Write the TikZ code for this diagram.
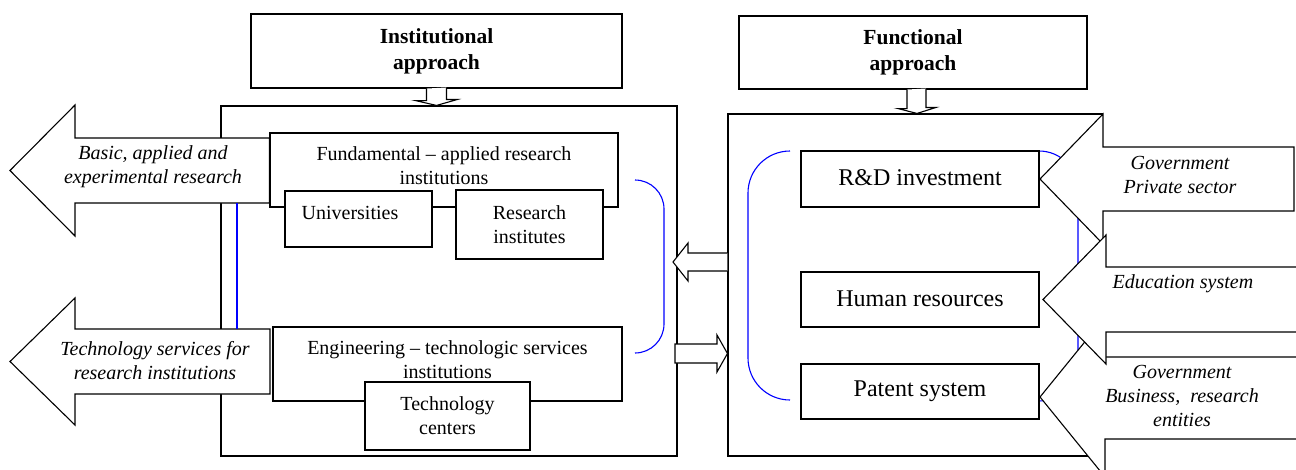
\documentclass[tikz,border=0pt]{standalone}
\usepackage{fontspec}
\setmainfont{Liberation Serif}
\usetikzlibrary{calc}
\begin{document}
\begin{tikzpicture}[x=1pt,y=-1pt,
  box/.style={draw, line width=1.1pt, fill=white, inner sep=0pt, align=center},
  barrow/.style={draw, line width=1.1pt, fill=white, line join=miter, miter limit=10},
  brk/.style={draw=blue, line width=1.1pt},
  lt/.style={font=\fontsize{20}{24}\selectfont, align=center, inner sep=0pt},
  it/.style={font=\fontsize{20}{24}\selectfont\itshape, align=center, inner sep=0pt},
  ft/.style={font=\fontsize{24}{28}\selectfont},
  bt/.style={font=\fontsize{21.5}{26}\selectfont\bfseries}]
\useasboundingbox (0,0) rectangle (1296,469);
\clip (0,0) rectangle (1296,469);

% large frames
\node[box, minimum width=456, minimum height=350] (lbox) at (449,281) {};
\node[box, minimum width=374, minimum height=342] (rbox) at (915,285) {};

% right bracket of the functional group (mostly hidden by the arrows)
\draw[brk, rounded corners=39] (1039,151) -- (1078,151) -- (1078,401) -- (1039,401);

% institutional boxes
\node[box, minimum width=348, minimum height=74] (fund) at (444,170) {};
\node[lt] (fundt) at (444,166) {Fundamental -- applied research\\institutions};
\node[box, minimum width=147, minimum height=56] (univ) at (358.5,219) {};
\node[lt] (univt) at (350,213) {Universities};
\node[box, lt, minimum width=147, minimum height=69] (rinst) at (529.5,224.5) {Research\\institutes};
\node[box, minimum width=349, minimum height=74] (eng) at (447.5,364) {};
\node[lt] (engt) at (447.5,360) {Engineering -- technologic services\\institutions};
\node[box, lt, minimum width=165, minimum height=68] (tech) at (447.5,416) {Technology\\centers};

% functional boxes
\node[box, ft, minimum width=238, minimum height=56] (rd) at (920,179) {\raisebox{2pt}{R\&D investment}};
\node[box, ft, minimum width=238, minimum height=55] (hr) at (920,299.5) {\raisebox{2pt}{Human resources}};
\node[box, ft, minimum width=238, minimum height=55] (pat) at (920,391.5) {\raisebox{2pt}{Patent system}};

% blue brackets
\draw[brk, rounded corners=29] (635,180) -- (664,180) -- (664,353) -- (635,353);
\draw[brk, rounded corners=42] (790,151) -- (748,151) -- (748,400) -- (790,400);

% left big arrows
\draw[barrow] (fund.west |- 0,138) -- (75,138) -- (75,105) -- (10,170.5) -- (75,236) -- (75,203) -- (fund.west |- 0,203) -- cycle;
\node[it] (a1t) at (153,167) {Basic, applied and\\experimental research};
\draw[barrow] (270,329) -- (75,329) -- (75,298) -- (10,361.5) -- (75,425) -- (75,394) -- (270,394) -- cycle;
\node[it] (a2t) at (155,361) {Technology services for\\research institutions};
\draw[brk] (237,203) -- (237,329);

% right big arrows
\draw[barrow] (1294,147) -- (1103,147) -- (1103,114) -- (1040,179) -- (1103,244) -- (1103,211) -- (1294,211) -- cycle;
\draw[barrow] (1310,357) -- (1105,357) -- (1105,317) -- (1040,397) -- (1105,477) -- (1105,439) -- (1310,439) -- cycle;
\draw[barrow] (1310,267) -- (1106,267) -- (1106,235) -- (1043,299.5) -- (1106,364) -- (1106,332) -- (1310,332) -- cycle;
\node[it] (r1t) at (1180,175) {Government\\Private sector};
\node[it] (r2t) at (1183,284) {Education system};
\node[it] (r3t) at (1182,396) {Government\\Business,~ research\\entities};

% top boxes
\node[box, bt, minimum width=371, minimum height=74] (inst) at (436.5,51) {Institutional\\approach};
\node[box, bt, minimum width=348, minimum height=73] (func) at (913,52.5) {Functional\\approach};

% small block arrows
\draw[barrow] ($(inst.south)+(-10,0)$) -- ++(0,12) -- ++(-11,0) -- ($(lbox.north)+(-12.5,0)$) -- ++(21,-6) -- ++(-11,0) -- ++(0,-12);
\draw[barrow] ($(func.south)+(-6,0)$) -- ++(0,19) -- ++(-9,0) -- ($(rbox.north)+(2,0)$) -- ++(19,-6) -- ++(-10,0) -- ++(0,-19);
\draw[barrow] (rbox.west |- 0,253) -- (688,253) -- (688,243) -- (673,262) -- (688,281) -- (688,271) -- (rbox.west |- 0,271);
\draw[barrow] (675,344) -- (717,344) -- (717,335) -- (rbox.west |- 0,353.5) -- (717,372) -- (717,363) -- (675,363) -- cycle;
\end{tikzpicture}
\end{document}
